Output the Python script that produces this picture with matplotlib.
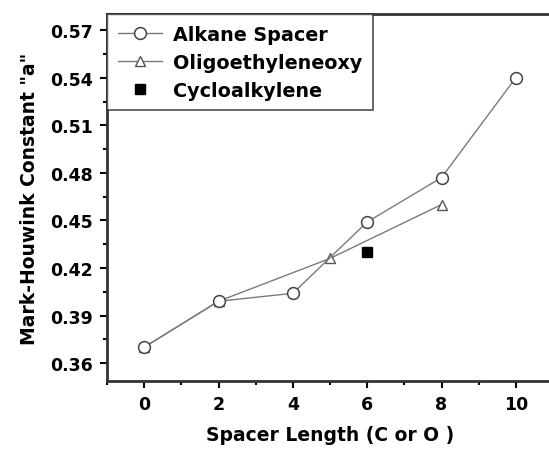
import matplotlib.pyplot as plt
from matplotlib.ticker import MultipleLocator

plt.rcParams['font.family'] = ['DejaVu Sans']
plt.rcParams['font.weight'] = 'bold'

# Mark-Houwink exponent vs spacer length
alkane_x = [0, 2, 4, 6, 8, 10]
alkane_a = [0.370, 0.399, 0.404, 0.449, 0.477, 0.540]

oligo_x = [0, 2, 5, 8]
oligo_a = [0.370, 0.399, 0.426, 0.460]

cyclo_x = [6]
cyclo_a = [0.430]

x_ticks = [0, 2, 4, 6, 8, 10]
y_ticks = [0.36, 0.39, 0.42, 0.45, 0.48, 0.51, 0.54, 0.57]

fig = plt.figure(figsize=(5.49, 4.52), dpi=100)
ax = fig.add_axes([107 / 549, (452 - 382) / 452, (553 - 107) / 549, (382 - 15) / 452])

line_col = '#7a7a7a'
ax.plot(alkane_x, alkane_a, '-o', color=line_col, lw=1.0, ms=8.5,
        mfc='white', mec='#444444', mew=1.1, label='Alkane Spacer', zorder=3)
ax.plot(oligo_x, oligo_a, '-^', color=line_col, lw=1.0, ms=6.5,
        mfc='white', mec='#555555', mew=1.0, label='Oligoethyleneoxy', zorder=2)
ax.plot(cyclo_x, cyclo_a, 's', color='black', ms=7, ls='none',
        label='Cycloalkylene', zorder=4)

ax.set_xlim(-1, 11)
ax.set_ylim(0.3487, 0.5802)
ax.set_xticks(x_ticks)
ax.set_yticks(y_ticks)
ax.set_yticklabels([f'{v:.2f}' for v in y_ticks])
ax.xaxis.set_minor_locator(MultipleLocator(1))
ax.yaxis.set_minor_locator(MultipleLocator(0.015))
ax.tick_params(which='major', direction='out', length=5, width=1.5, labelsize=12.5, pad=5)
ax.tick_params(which='minor', direction='out', length=3, width=1.5)
ax.tick_params(top=False, right=False)

for side in ['left', 'bottom', 'top']:
    ax.spines[side].set_linewidth(2)
    ax.spines[side].set_color('#333333')
ax.spines['right'].set_visible(False)

ax.set_xlabel('Spacer Length (C or O )', fontsize=13.5, fontweight='bold', labelpad=9)
ax.set_ylabel('Mark-Houwink Constant "a"', fontsize=13.5, fontweight='bold', labelpad=8)

leg = ax.legend(loc='upper left', bbox_to_anchor=(0, 1), borderaxespad=0,
                fontsize=13.8, frameon=True, fancybox=False, handlelength=2.3,
                handletextpad=0.6, borderpad=0.55, labelspacing=0.48)
leg.get_frame().set_edgecolor('#222222')
leg.get_frame().set_linewidth(1.2)
for t in leg.get_texts():
    t.set_fontweight('bold')

fig.savefig('out.png', dpi=100)
